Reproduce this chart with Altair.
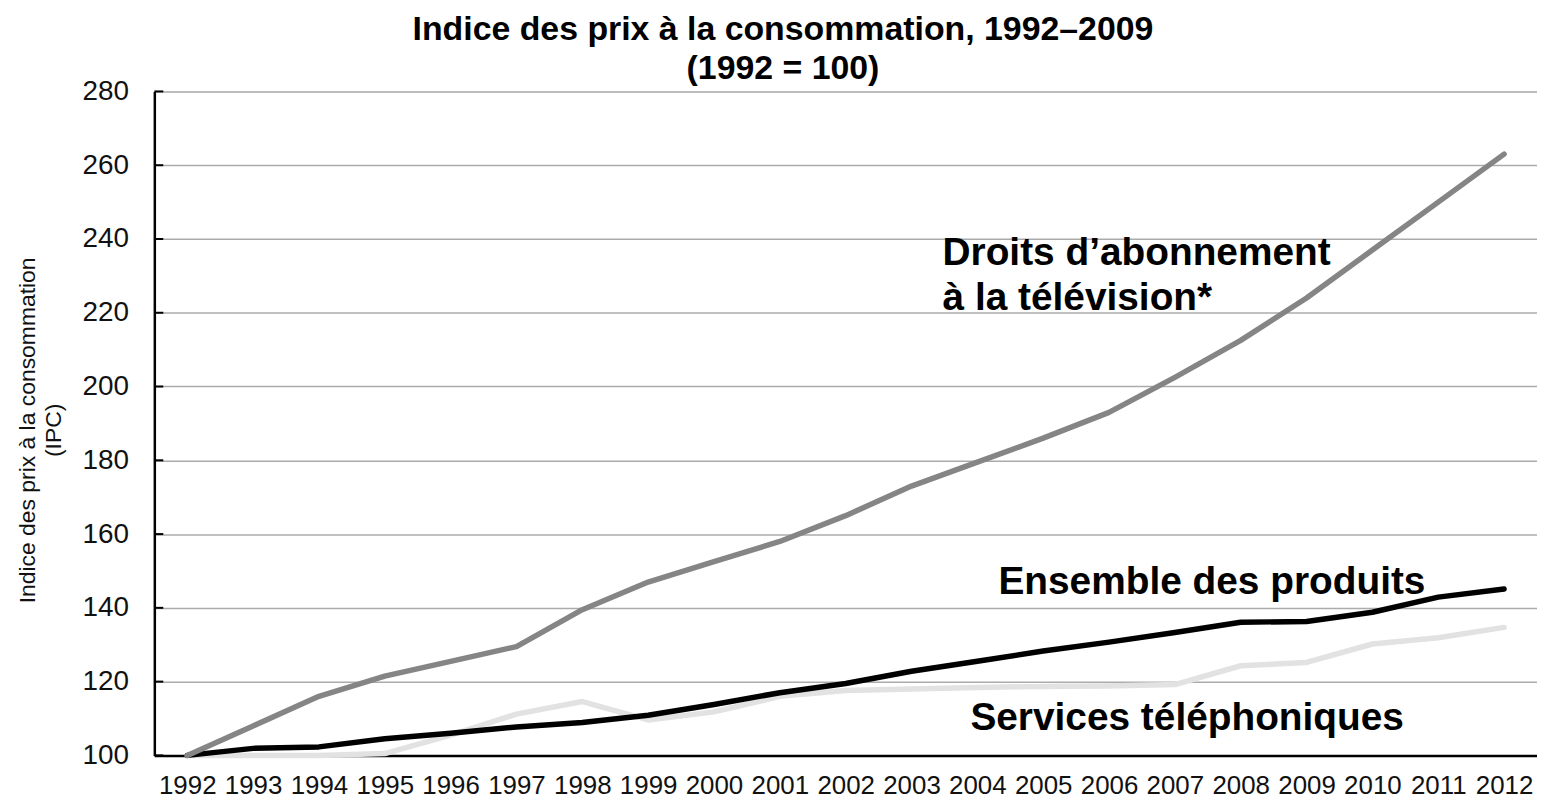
import altair as alt
import pandas as pd

years = [str(y) for y in range(1992, 2013)]
droits = [100, 108, 116, 121.5, 125.5, 129.5, 139.5, 147, 152.5, 158, 165,
          173, 179.5, 186, 193, 202.5, 212.5, 224, 237, 250, 263]
ensemble = [100, 101.9, 102.3, 104.5, 106, 107.7, 108.9, 110.9, 113.8, 117,
            119.5, 122.8, 125.5, 128.3, 130.7, 133.3, 136.1, 136.3, 138.8, 142.9, 145.1]
services = [100, 100, 100, 100.5, 105.5, 111.2, 114.6, 109.6, 111.8, 116,
            117.6, 118, 118.4, 118.7, 118.8, 119.2, 124.3, 125.2, 130.2, 131.9, 134.7]
series_names = ["Services téléphoniques", "Ensemble des produits",
                "Droits d’abonnement à la télévision*"]
series_colors = ["#e2e2e2", "#000000", "#858585"]
y_ticks = [100, 120, 140, 160, 180, 200, 220, 240, 260, 280]

labels_text = ["Droits d’abonnement", "à la télévision*",
               "Ensemble des produits", "Services téléphoniques"]
labels_year = ["2004", "2004", "2005", "2004"]
labels_value = [233, 220.8, 143.8, 107]
labels_dx = [-35, -35, -45, -7]

rows = []
for name, vals in zip(series_names, [services, ensemble, droits]):
    for yr, v in zip(years, vals):
        rows.append({"year": yr, "value": v, "series": name})
df = pd.DataFrame(rows)

FONT = "Liberation Sans"

x_scale = alt.Scale(type="point", padding=0.5, domain=years)
x_enc = alt.X("year:O", scale=x_scale,
              axis=alt.Axis(title=None, labelAngle=0, labelFontSize=26, labelFont=FONT,
                            labelColor="#111", ticks=False, tickSize=0, labelPadding=38,
                            labelBaseline="alphabetic",
                            domainColor="#000", domainWidth=2.5, grid=False))
y_scale = alt.Scale(domain=[100, 280], nice=False, zero=False)

lines = alt.Chart(df).mark_line(strokeWidth=5.5, strokeCap="round", strokeJoin="round").encode(
    x=x_enc,
    y=alt.Y("value:Q", scale=y_scale,
            axis=alt.Axis(values=y_ticks, title=["Indice des prix à la consommation", "(IPC)"],
                          titleFont=FONT, titleFontSize=23, titleFontWeight="normal",
                          titleColor="#111", titleAngle=-90, titleBaseline="top",
                          titleX=-138, titleY=340, titleAlign="center", titleLineHeight=26,
                          labelFont=FONT, labelFontSize=28, labelColor="#111",
                          labelPadding=26, ticks=False, tickSize=0,
                          domainColor="#000", domainWidth=2.5,
                          grid=True, gridColor="#ababab", gridWidth=1.5)),
    color=alt.Color("series:N", scale=alt.Scale(domain=series_names, range=series_colors),
                    legend=None),
    order=alt.Order("series_order:Q"),
).transform_calculate(
    series_order="indexof(['Services téléphoniques','Ensemble des produits','Droits d’abonnement à la télévision*'], datum.series)"
)

tick_df = pd.DataFrame({"v": y_ticks})
inner_ticks = alt.Chart(tick_df).mark_rule(color="#000", strokeWidth=2).encode(
    x=alt.value(0), x2=alt.value(9), y=alt.Y("v:Q", scale=y_scale)
)

lab_df = pd.DataFrame({"text": labels_text, "year": labels_year,
                       "value": labels_value, "dx": labels_dx})
texts = []
for i in range(len(labels_text)):
    sub = lab_df.iloc[[i]]
    texts.append(alt.Chart(sub).mark_text(
        align="left", baseline="alphabetic", font=FONT, fontWeight="bold",
        fontSize=39, color="#000", dx=int(labels_dx[i])
    ).encode(x=alt.X("year:O", scale=x_scale),
             y=alt.Y("value:Q", scale=y_scale), text="text:N"))

chart = alt.layer(lines, inner_ticks, *texts).properties(
    width=1389, height=667,
    title=alt.TitleParams(text=["Indice des prix à la consommation, 1992–2009", "(1992 = 100)"],
                          font=FONT, fontSize=34, fontWeight="bold", color="#000",
                          anchor="middle", frame="group", dx=-63, dy=15, offset=6, lineHeight=40),
    autosize=alt.AutoSizeParams(type="none"),
    padding={"left": 147, "top": 82, "right": 0, "bottom": 43},
).configure_view(stroke=None).configure(background="white")

chart.save("out.html", embed_options={"renderer": "svg", "actions": False})
